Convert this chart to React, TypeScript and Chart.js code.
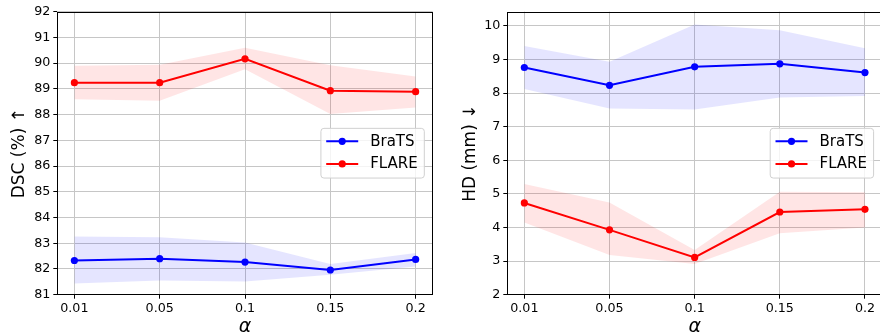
import React, { useEffect, useRef } from "react";
import { Chart, registerables } from "chart.js";
Chart.register(...registerables);

// ---------- data ----------
const alphaLabels = ["0.01", "0.05", "0.1", "0.15", "0.2"];

const dscBrats = [82.33, 82.4, 82.27, 81.96, 82.37];
const dscBratsUpper = [83.26, 83.23, 83.03, 82.19, 82.62];
const dscBratsLower = [81.44, 81.55, 81.51, 81.78, 82.1];
const dscFlare = [89.24, 89.24, 90.17, 88.93, 88.89];
const dscFlareUpper = [89.9, 89.94, 90.6, 89.92, 89.48];
const dscFlareLower = [88.6, 88.54, 89.76, 88.02, 88.28];

const hdBrats = [8.76, 8.23, 8.78, 8.87, 8.61];
const hdBratsUpper = [9.4, 8.93, 10.04, 9.87, 9.33];
const hdBratsLower = [8.12, 7.54, 7.51, 7.87, 7.91];
const hdFlare = [4.73, 3.93, 3.11, 4.46, 4.54];
const hdFlareUpper = [5.29, 4.74, 3.33, 5.06, 5.05];
const hdFlareLower = [4.15, 3.18, 2.91, 3.83, 4.0];

const dscTicks = [81, 82, 83, 84, 85, 86, 87, 88, 89, 90, 91, 92];
const hdTicks = [2, 3, 4, 5, 6, 7, 8, 9, 10];

const seriesNames = ["BraTS", "FLARE"];
const BLUE = "#0000ff";
const RED = "#ff0000";
const BLUE_BAND = "rgba(0,0,255,0.1)";
const RED_BAND = "rgba(255,0,0,0.1)";
const FONT = "'DejaVu Sans', sans-serif";
const GRID = "#c6c6c6";

const toPts = (arr: number[]) => arr.map((y, i) => ({ x: i, y }));

const framePlugin = {
  id: "frameAndLegend",
  afterDraw(chart: any) {
    const { ctx, chartArea: a } = chart;
    ctx.save();
    // spines
    ctx.strokeStyle = "#000";
    ctx.lineWidth = 1;
    const l = Math.round(a.left) + 0.5;
    const t = Math.round(a.top) + 0.5;
    const r = Math.round(a.right) - 0.5;
    const b = Math.round(a.bottom) - 0.5;
    ctx.strokeRect(l, t, r - l, b - t);

    // legend (matplotlib style, center right)
    const items = chart.data.datasets.filter((d: any) => d.label);
    ctx.font = `15px ${FONT}`;
    const maxText = Math.max(...items.map((d: any) => ctx.measureText(d.label).width));
    const padL = 5.3, handle = 32, gap = 12, padR = 6.6;
    const w = padL + handle + gap + maxText + padR;
    const h = 49.7;
    const bx = a.right - 8.4 - w;
    const by = (a.top + a.bottom) / 2 - h / 2;
    ctx.beginPath();
    (ctx as any).roundRect(bx, by, w, h, 3);
    ctx.fillStyle = "rgba(255,255,255,0.8)";
    ctx.fill();
    ctx.strokeStyle = "#d0d0d0";
    ctx.lineWidth = 1;
    ctx.stroke();
    items.forEach((d: any, i: number) => {
      const y = by + 13 + i * 22.6;
      const x0 = bx + padL;
      ctx.strokeStyle = d.borderColor;
      ctx.lineWidth = 2;
      ctx.beginPath();
      ctx.moveTo(x0, y);
      ctx.lineTo(x0 + handle, y);
      ctx.stroke();
      ctx.fillStyle = d.borderColor;
      ctx.beginPath();
      ctx.arc(x0 + handle / 2, y, 3.6, 0, Math.PI * 2);
      ctx.fill();
      ctx.fillStyle = "#000";
      ctx.textBaseline = "middle";
      ctx.textAlign = "left";
      ctx.fillText(d.label, x0 + handle + gap, y + 0.5);
    });
    ctx.restore();
  },
};

function makeConfig(p: {
  brats: number[]; bratsU: number[]; bratsL: number[];
  flare: number[]; flareU: number[]; flareL: number[];
  min: number; max: number; ticks: number[];
  yTitle: string; yW: number; titlePad: number; rightPad: number;
}): any {
  const band = (data: number[], fill: any, color: string) => ({
    label: "",
    data: toPts(data),
    borderWidth: 0,
    borderColor: "transparent",
    pointRadius: 0,
    backgroundColor: color,
    fill,
  });
  const line = (label: string, data: number[], color: string) => ({
    label,
    data: toPts(data),
    borderColor: color,
    backgroundColor: color,
    borderWidth: 2,
    pointRadius: 3.6,
    pointBorderWidth: 0,
    fill: false,
  });
  return {
    type: "line",
    data: {
      datasets: [
        band(p.bratsU, false, BLUE_BAND),
        band(p.bratsL, "-1", BLUE_BAND),
        band(p.flareU, false, RED_BAND),
        band(p.flareL, "-1", RED_BAND),
        line(seriesNames[0], p.brats, BLUE),
        line(seriesNames[1], p.flare, RED),
      ],
    },
    options: {
      responsive: false,
      animation: false,
      events: [],
      layout: { padding: { left: 0, right: p.rightPad, top: 11.7, bottom: 0 } },
      plugins: { legend: { display: false }, tooltip: { enabled: false } },
      scales: {
        x: {
          type: "linear",
          min: -0.2,
          max: 4.2,
          afterFit: (s: any) => { s.height = 40.3; },
          afterBuildTicks: (s: any) => { s.ticks = alphaLabels.map((_, i) => ({ value: i })); },
          grid: { color: GRID, lineWidth: 1, tickLength: 4, tickColor: "#000", drawTicks: true },
          border: { display: false },
          ticks: {
            font: { family: FONT, size: 12.7 },
            color: "#000",
            padding: 2,
            maxRotation: 0,
            callback: (v: number) => alphaLabels[v] ?? "",
          },
          title: {
            display: true,
            text: "α",
            color: "#000",
            font: { family: FONT, size: 19, style: "italic", lineHeight: 1 },
            padding: { top: 0, bottom: -1.5 },
          },
        },
        y: {
          type: "linear",
          min: p.min,
          max: p.max,
          afterFit: (s: any) => { s.width = p.yW; },
          afterBuildTicks: (s: any) => { s.ticks = p.ticks.map((v) => ({ value: v })); },
          grid: { color: GRID, lineWidth: 1, tickLength: 4, tickColor: "#000", drawTicks: true },
          border: { display: false },
          ticks: { font: { family: FONT, size: 12.7 }, color: "#000", padding: 3 },
          title: {
            display: true,
            text: p.yTitle,
            color: "#000",
            font: { family: FONT, size: 17, lineHeight: 1 },
            padding: { top: p.titlePad, bottom: 0 },
          },
        },
      },
    },
    plugins: [framePlugin],
  };
}

export default function App() {
  const leftRef = useRef<HTMLCanvasElement>(null);
  const rightRef = useRef<HTMLCanvasElement>(null);

  useEffect(() => {
    const c1 = new Chart(leftRef.current!, makeConfig({
      brats: dscBrats, bratsU: dscBratsUpper, bratsL: dscBratsLower,
      flare: dscFlare, flareU: dscFlareUpper, flareL: dscFlareLower,
      min: 81, max: 92, ticks: dscTicks,
      yTitle: "DSC (%) ↑", yW: 57.3, titlePad: 11.2, rightPad: 440 - 432.7,
    }));
    const c2 = new Chart(rightRef.current!, makeConfig({
      brats: hdBrats, bratsU: hdBratsUpper, bratsL: hdBratsLower,
      flare: hdFlare, flareU: hdFlareUpper, flareL: hdFlareLower,
      min: 2, max: 10.42, ticks: hdTicks,
      yTitle: "HD (mm) ↓", yW: 67.3, titlePad: 22.3, rightPad: 446 - 443.3,
    }));
    return () => { c1.destroy(); c2.destroy(); };
  }, []);

  return (
    <div style={{ position: "fixed", left: 0, top: 0, width: 880, height: 335, overflow: "hidden", background: "#fff" }}>
      <canvas ref={leftRef} width={440} height={335} style={{ position: "absolute", left: 0, top: 0, width: 440, height: 335 }} />
      <canvas ref={rightRef} width={446} height={335} style={{ position: "absolute", left: 440, top: 0, width: 446, height: 335 }} />
    </div>
  );
}
